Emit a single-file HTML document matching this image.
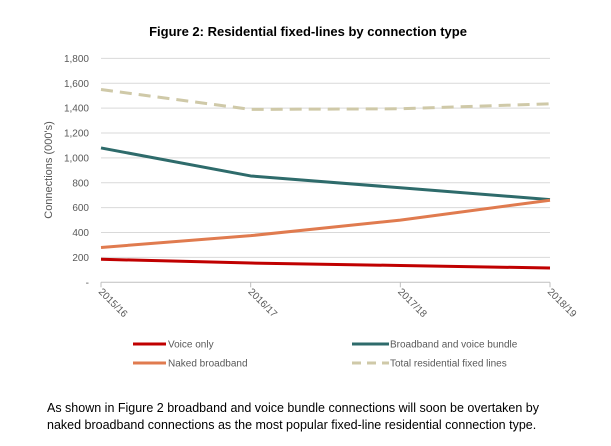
<!DOCTYPE html>
<html><head><meta charset="utf-8"><style>
body{margin:0;background:#fff;width:611px;height:446px;overflow:hidden;font-family:"Liberation Sans",sans-serif}
</style></head><body>
<svg width="611" height="446" style="position:absolute;left:0;top:0">
<text x="308" y="36" text-anchor="middle" font-size="13" font-weight="bold" fill="#000">Figure 2: Residential fixed-lines by connection type</text>
<g id="grid"></g><g id="series"></g>
<text transform="translate(52,170) rotate(-90)" text-anchor="middle" font-size="11" fill="#595959">Connections (000's)</text>
<g font-size="10" fill="#595959">
<line x1="133" y1="344" x2="166" y2="344" stroke="#c00000" stroke-width="3"/><text x="168" y="347.5">Voice only</text>
<line x1="352" y1="344" x2="389" y2="344" stroke="#2e6b6b" stroke-width="3"/><text x="390" y="347.5">Broadband and voice bundle</text>
<line x1="133" y1="363" x2="166" y2="363" stroke="#e07b4f" stroke-width="3"/><text x="168" y="366.5">Naked broadband</text>
<line x1="352" y1="363" x2="389" y2="363" stroke="#cfc9a8" stroke-width="3" stroke-dasharray="9,6"/><text x="390" y="366.5">Total residential fixed lines</text>
</g>
<text x="47" y="412" font-size="12.5" fill="#000">As shown in Figure 2 broadband and voice bundle connections will soon be overtaken by</text>
<text x="47" y="429" font-size="12.5" fill="#000">naked broadband connections as the most popular fixed-line residential connection type.</text>
</svg>
<script>
const categories=["2015/16","2016/17","2017/18","2018/19"];
const yTicks=[0,200,400,600,800,1000,1200,1400,1600,1800];
const voiceOnly=[185,155,135,115];
const bundle=[1080,855,760,665];
const naked=[280,375,500,660];
const total=[1550,1390,1395,1435];
const NS="http://www.w3.org/2000/svg";
const x=i=>101+i*(550-101)/(categories.length-1);
const y=v=>282.3-v*(282.3-58.4)/1800;
const grid=document.getElementById('grid'),ser=document.getElementById('series');
function mk(t,a,p){const e=document.createElementNS(NS,t);for(const k in a)e.setAttribute(k,a[k]);p.appendChild(e);return e;}
yTicks.forEach(v=>{
 const l=mk('line',{x1:101,x2:550,y1:y(v),y2:y(v),stroke:v===0?'#bfbfbf':'#d9d9d9','stroke-width':1},grid);
 
 
 const t=mk('text',{x:89,y:y(v)+3.5,'text-anchor':'end','font-size':10,fill:'#595959'},grid);
 t.textContent=v===0?'-':v.toLocaleString('en-US');
 
 
});
categories.forEach((c,i)=>{
 const tk=mk('line',{x1:x(i),x2:x(i),y1:y(0),y2:y(0)+5,stroke:'#bfbfbf'},grid);
 
 
 const t=mk('text',{transform:`translate(${x(i)-3},${y(0)+10}) rotate(45)`,'font-size':10,fill:'#595959'},grid);
 t.textContent=c;
 
 
});
function line(arr,color,name,dash){
 const p=mk('polyline',{points:arr.map((v,i)=>x(i)+','+y(v)).join(' '),fill:'none',stroke:color,'stroke-width':3,'stroke-linejoin':'round'},ser);
 if(dash)p.setAttribute('stroke-dasharray',dash);
 
 
}
line(total,'#cfc9a8','total-line','12,7');
line(bundle,'#2e6b6b','bundle-line');
line(naked,'#e07b4f','naked-line');
line(voiceOnly,'#c00000','voice-only-line');
</script>
</body></html>
